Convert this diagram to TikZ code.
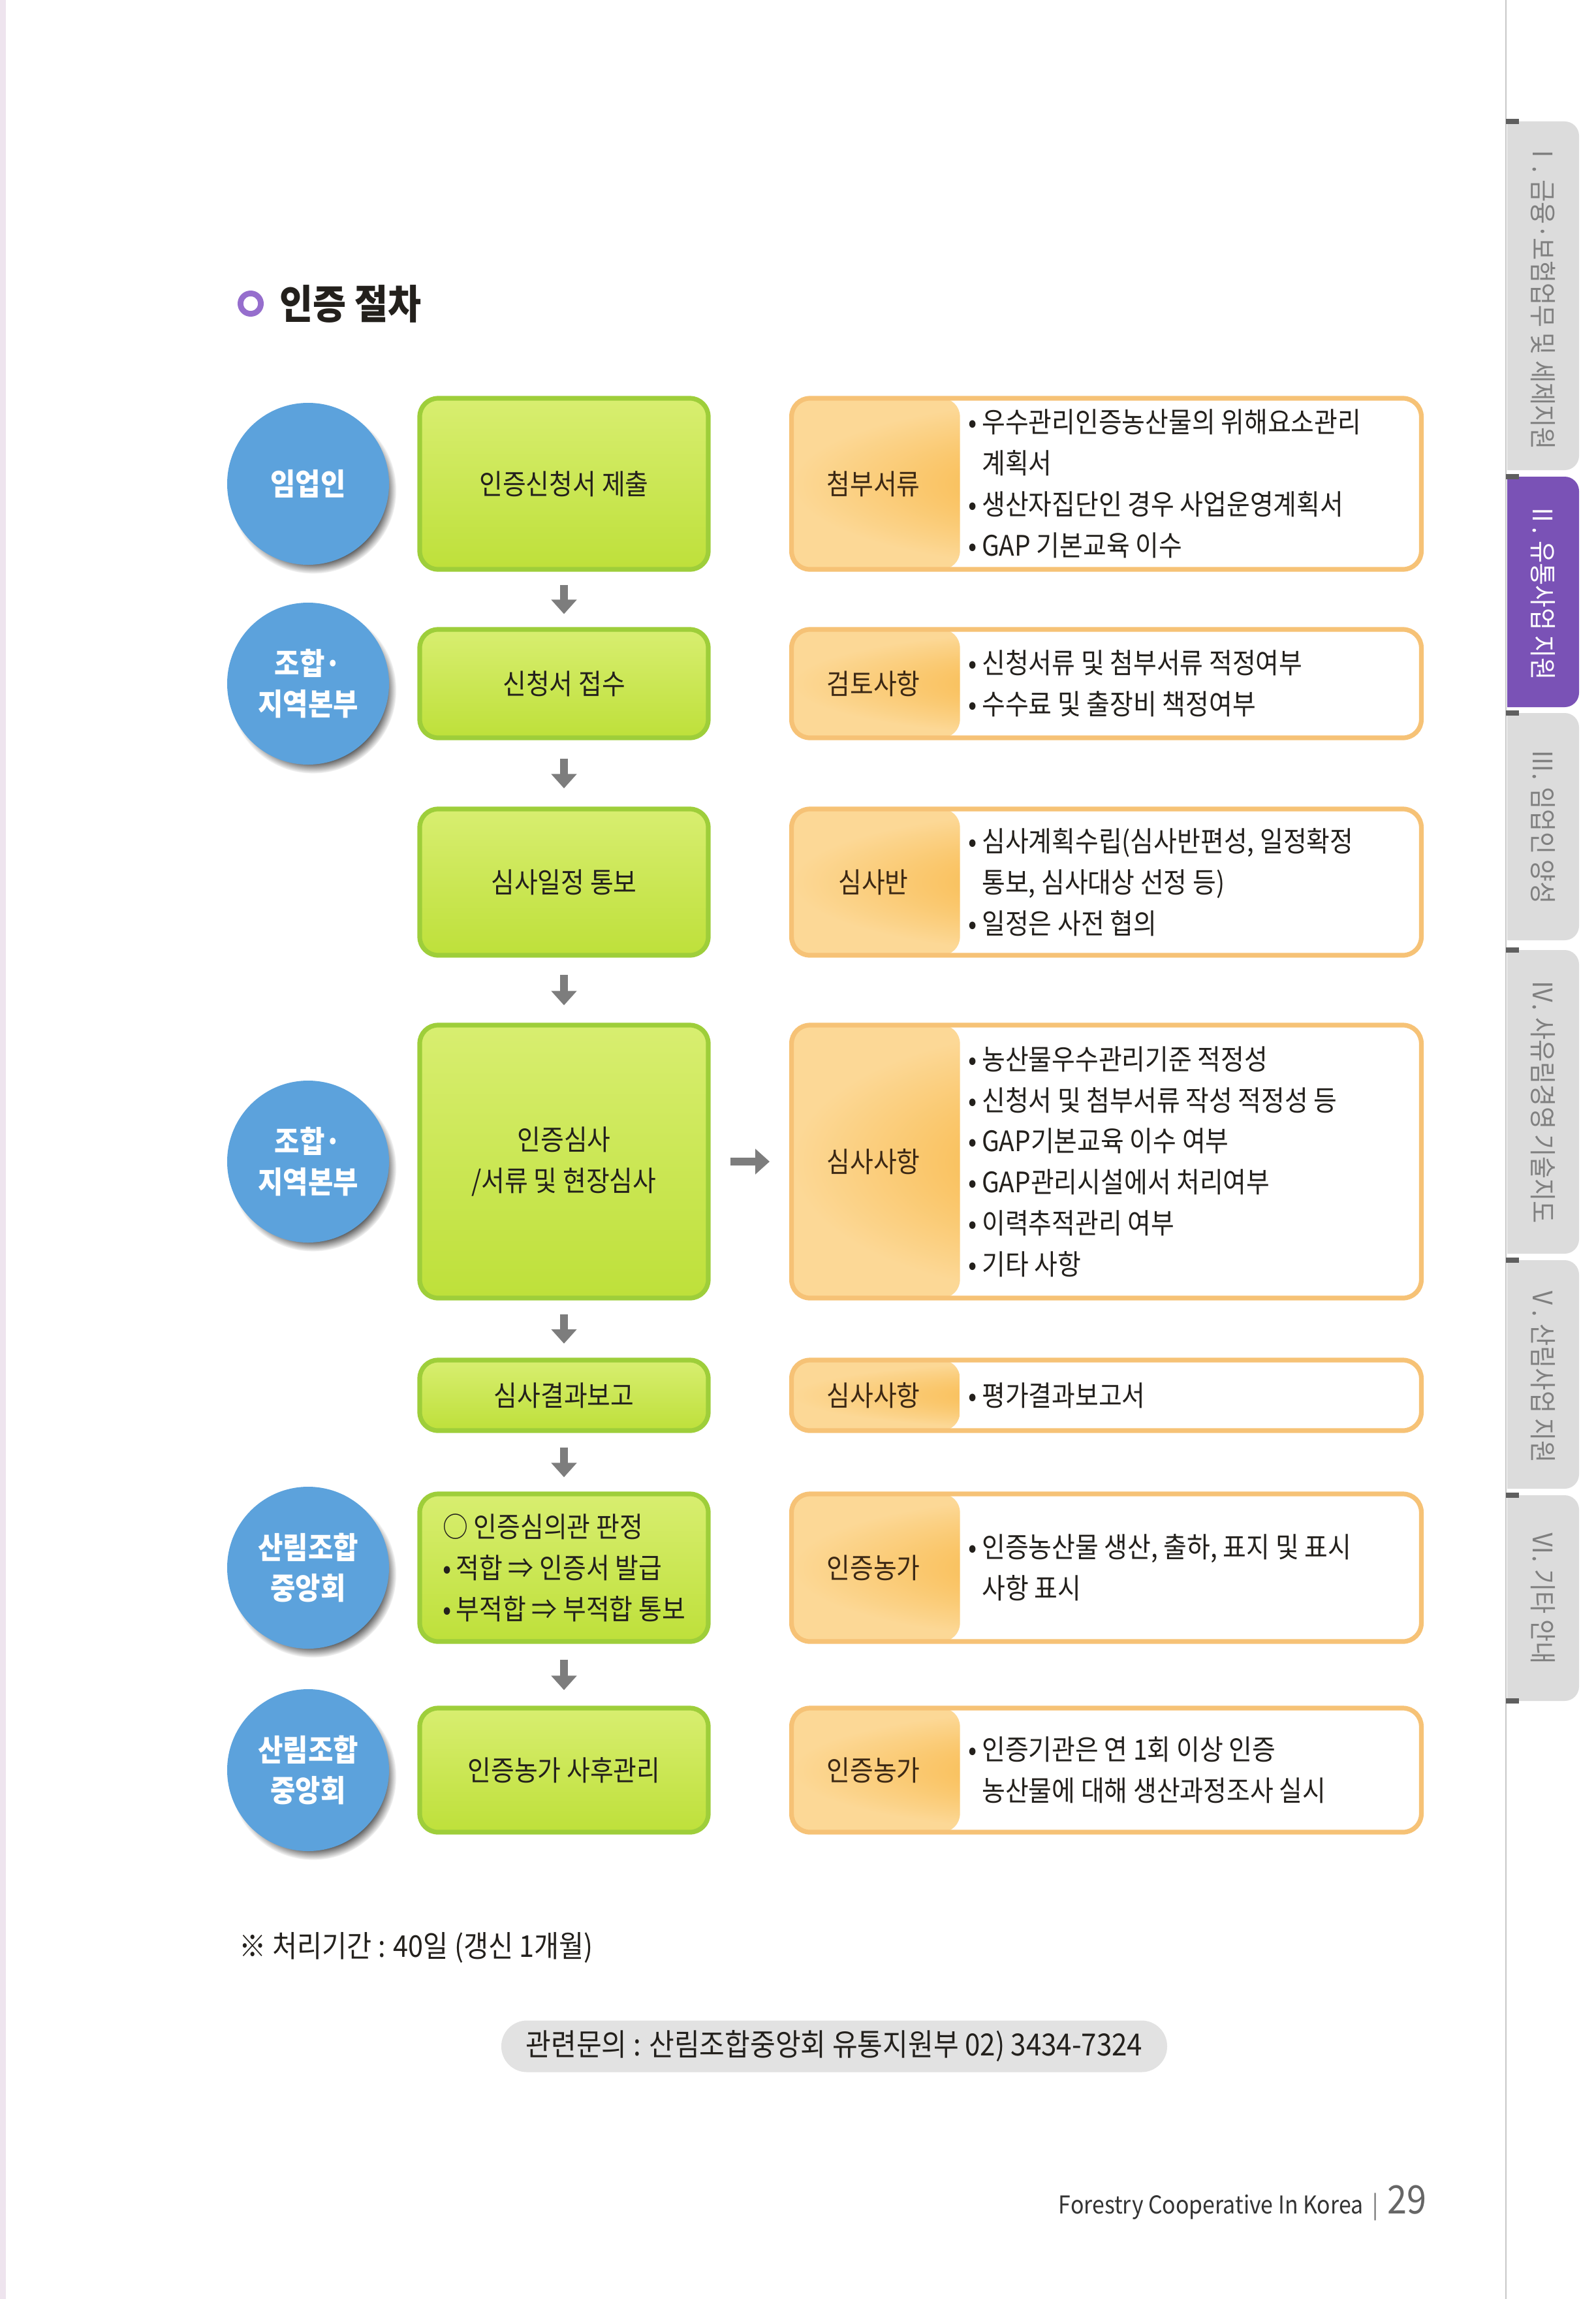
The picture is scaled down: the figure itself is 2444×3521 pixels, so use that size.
\documentclass[tikz,border=0pt]{standalone}
\usepackage{fontspec}
\setmainfont{Noto Sans CJK KR}[FakeStretch=0.9]
\usetikzlibrary{arrows.meta,calc,positioning,shadows}
\definecolor{CircBlue}{RGB}{92,162,220}
\definecolor{StepGreen}{RGB}{190,224,58}
\definecolor{StepTop}{RGB}{216,238,112}
\definecolor{StepEdge}{RGB}{158,206,58}
\definecolor{TagOrange}{RGB}{247,176,52}
\definecolor{TagLight}{RGB}{252,216,150}
\definecolor{TagEdge}{RGB}{246,194,118}
\definecolor{TagInk}{RGB}{60,40,20}
\definecolor{InkDark}{RGB}{35,32,28}
\definecolor{ArrowGray}{RGB}{125,125,125}
\definecolor{TitleRing}{RGB}{150,110,205}
\definecolor{TabGray}{RGB}{220,220,220}
\definecolor{TabInk}{RGB}{128,128,128}
\definecolor{TabPurple}{RGB}{122,82,182}
\definecolor{TickInk}{RGB}{95,95,95}
\definecolor{EdgeLine}{RGB}{200,200,200}
\definecolor{EdgeTint}{RGB}{238,228,238}
\definecolor{PillGray}{RGB}{226,226,226}

\begin{document}
\begin{tikzpicture}[x=0.25pt,y=-0.25pt,
  who/.style={circle,fill=CircBlue,minimum size=62pt,inner sep=0pt,text=white,align=center,
    font=\bfseries\fontsize{11.6}{15.7}\selectfont,
    circular drop shadow={shadow xshift=1.8pt,shadow yshift=-2.4pt,fill=black!70,shadow scale=1.03}},
  stepbox/.style={draw=StepEdge,line width=1.8pt,rounded corners=7pt,top color=StepTop,bottom color=StepGreen,
    minimum width=110.5pt,text=InkDark,align=center,font=\fontsize{10.8}{15.7}\selectfont},
  tagbox/.style={draw=TagEdge,line width=1.8pt,rounded corners=7pt,fill=white,minimum width=241.2pt,
    path picture={\shade[inner color=TagOrange,outer color=TagLight]
      (path picture bounding box.north west) rectangle ([xshift=64.5pt]path picture bounding box.south west);}},
  tagname/.style={text=TagInk,font=\fontsize{10.8}{15.7}\selectfont},
  taglist/.style={anchor=west,inner sep=0pt,align=left,text=InkDark,font=\fontsize{10.8}{15.7}\selectfont},
  flowarr/.style={draw=ArrowGray,line width=3.2pt,-{Triangle[width=9.5pt,length=5.5pt]},shorten <=5pt,shorten >=5pt},
  tabtext/.style={rotate=-90,text=TabInk,font=\fontsize{10.3}{12}\selectfont}]
\useasboundingbox (0,0) rectangle (2444,3521);
\fill[white] (0,0) rectangle (2444,3521);
\fill[EdgeTint] (0,0) rectangle (9,3521);

\node[draw=TitleRing,circle,line width=2.2pt,minimum size=7.8pt,inner sep=0pt] (mark) at (384,465) {};
\node[right=6pt of mark,inner sep=0pt,text=InkDark,font=\bfseries\fontsize{15.4}{18}\selectfont] (title) {인증 절차};

\node[who] (c1) at (472,741) {임업인};
\node[stepbox,minimum height=65.5pt] (g1) at (864,741) {인증신청서 제출};
\node[tagbox,minimum height=65.5pt] (o1) at (1695,741) {};
\node[tagname] (n1) at ($(o1.west)+(129,0)$) {첨부서류};
\node[taglist] (t1) at ($(o1.west)+(274,0)$) {•\,우수관리인증농산물의 위해요소관리\\\phantom{•\,}계획서\\•\,생산자집단인 경우 사업운영계획서\\•\,GAP 기본교육 이수};

\node[who] (c2) at (472,1047) {조합·\\지역본부};
\node[stepbox,minimum height=41.5pt] (g2) at (864,1047) {신청서 접수};
\node[tagbox,minimum height=41.5pt] (o2) at (1695,1047) {};
\node[tagname] (n2) at ($(o2.west)+(129,0)$) {검토사항};
\node[taglist] (t2) at ($(o2.west)+(274,0)$) {•\,신청서류 및 첨부서류 적정여부\\•\,수수료 및 출장비 책정여부};

\node[stepbox,minimum height=56pt] (g3) at (864,1351) {심사일정 통보};
\node[tagbox,minimum height=56pt] (o3) at (1695,1351) {};
\node[tagname] (n3) at ($(o3.west)+(129,0)$) {심사반};
\node[taglist] (t3) at ($(o3.west)+(274,0)$) {•\,심사계획수립(심사반편성, 일정확정\\\phantom{•\,}통보, 심사대상 선정 등)\\•\,일정은 사전 협의};

\node[who] (c4) at (472,1779) {조합·\\지역본부};
\node[stepbox,minimum height=104.5pt] (g4) at (864,1779) {인증심사\\/서류 및 현장심사};
\node[tagbox,minimum height=104.5pt] (o4) at (1695,1779) {};
\node[tagname] (n4) at ($(o4.west)+(129,0)$) {심사사항};
\node[taglist] (t4) at ($(o4.west)+(274,0)$) {•\,농산물우수관리기준 적정성\\•\,신청서 및 첨부서류 작성 적정성 등\\•\,GAP기본교육 이수 여부\\•\,GAP관리시설에서 처리여부\\•\,이력추적관리 여부\\•\,기타 사항};

\node[stepbox,minimum height=27pt] (g5) at (864,2137) {심사결과보고};
\node[tagbox,minimum height=27pt] (o5) at (1695,2137) {};
\node[tagname] (n5) at ($(o5.west)+(129,0)$) {심사사항};
\node[taglist] (t5) at ($(o5.west)+(274,0)$) {•\,평가결과보고서};

\node[who] (c6) at (472,2401) {산림조합\\중앙회};
\node[stepbox,align=left,minimum height=56.5pt] (g6) at (864,2401) {○ 인증심의관 판정\\•\,적합 ⇒ 인증서 발급\\•\,부적합 ⇒ 부적합 통보};
\node[tagbox,minimum height=56.5pt] (o6) at (1695,2401) {};
\node[tagname] (n6) at ($(o6.west)+(129,0)$) {인증농가};
\node[taglist] (t6) at ($(o6.west)+(274,0)$) {•\,인증농산물 생산, 출하, 표지 및 표시\\\phantom{•\,}사항 표시};

\node[who] (c7) at (472,2711) {산림조합\\중앙회};
\node[stepbox,minimum height=47.5pt] (g7) at (864,2711) {인증농가 사후관리};
\node[tagbox,minimum height=47.5pt] (o7) at (1695,2711) {};
\node[tagname] (n7) at ($(o7.west)+(129,0)$) {인증농가};
\node[taglist] (t7) at ($(o7.west)+(274,0)$) {•\,인증기관은 연 1회 이상 인증\\\phantom{•\,}농산물에 대해 생산과정조사 실시};

\draw[flowarr] (g1) -- (g2);
\draw[flowarr,shorten <=7pt,shorten >=7pt] (g2) -- (g3);
\draw[flowarr,shorten <=6.7pt,shorten >=6.7pt] (g3) -- (g4);
\draw[flowarr,shorten <=5.4pt,shorten >=5.4pt] (g4) -- (g5);
\draw[flowarr,shorten <=5.5pt,shorten >=5.5pt] (g5) -- (g6);
\draw[flowarr,shorten <=6pt,shorten >=6pt] (g6) -- (g7);
\draw[flowarr,shorten <=7.5pt,shorten >=7.5pt] (g4) -- (o4);

\node[anchor=west,inner sep=0pt,text=InkDark,font=\fontsize{11.5}{14}\selectfont] (note) at (366,2983) {※ 처리기간 : 40일 (갱신 1개월)};
\node[fill=PillGray,rounded corners=9.8pt,minimum width=255pt,minimum height=19.75pt,inner sep=0pt,
  text=InkDark,font=\fontsize{11.7}{14}\selectfont] (ask) at (1278,3134) {관련문의 : 산림조합중앙회 유통지원부 02) 3434-7324};
\node[anchor=base east,inner sep=0pt,text=black!80,font=\fontsize{9.4}{11}\selectfont] (foot) at (2186,3390)
  {Forestry Cooperative In Korea {\color{black!55}\,|\,} {\color{black!60}\fontsize{15}{16}\selectfont 29}};

\begin{scope}
  \clip (2309,0) rectangle (2444,3521);
  \fill[TabGray,rounded corners=5.5pt] (2280,186) rectangle (2419,720);
  \fill[TabPurple,rounded corners=5.5pt] (2280,730) rectangle (2419,1083);
  \fill[TabGray,rounded corners=5.5pt] (2280,1092) rectangle (2419,1440);
  \fill[TabGray,rounded corners=5.5pt] (2280,1455) rectangle (2419,1920);
  \fill[TabGray,rounded corners=5.5pt] (2280,1930) rectangle (2419,2280);
  \fill[TabGray,rounded corners=5.5pt] (2280,2290) rectangle (2419,2605);
\end{scope}
\draw[EdgeLine,line width=0.5pt] (2307,0) -- (2307,3521);
\draw[TickInk,line width=1.8pt] (2307,186) -- ++(20,0) (2307,730) -- ++(20,0) (2307,1092) -- ++(20,0)
  (2307,1455) -- ++(20,0) (2307,1930) -- ++(20,0) (2307,2290) -- ++(20,0) (2307,2605) -- ++(20,0);
\node[tabtext] (tab1) at (2364,453) {Ⅰ. 금융·보험업무 및 세제지원};
\node[tabtext,text=white] (tab2) at (2364,906) {Ⅱ. 유통사업 지원};
\node[tabtext] (tab3) at (2364,1266) {Ⅲ. 임업인 양성};
\node[tabtext] (tab4) at (2364,1687) {Ⅳ. 사유림경영 기술지도};
\node[tabtext] (tab5) at (2364,2105) {Ⅴ. 산림사업 지원};
\node[tabtext] (tab6) at (2364,2447) {Ⅵ. 기타 안내};
\end{tikzpicture}
\end{document}
